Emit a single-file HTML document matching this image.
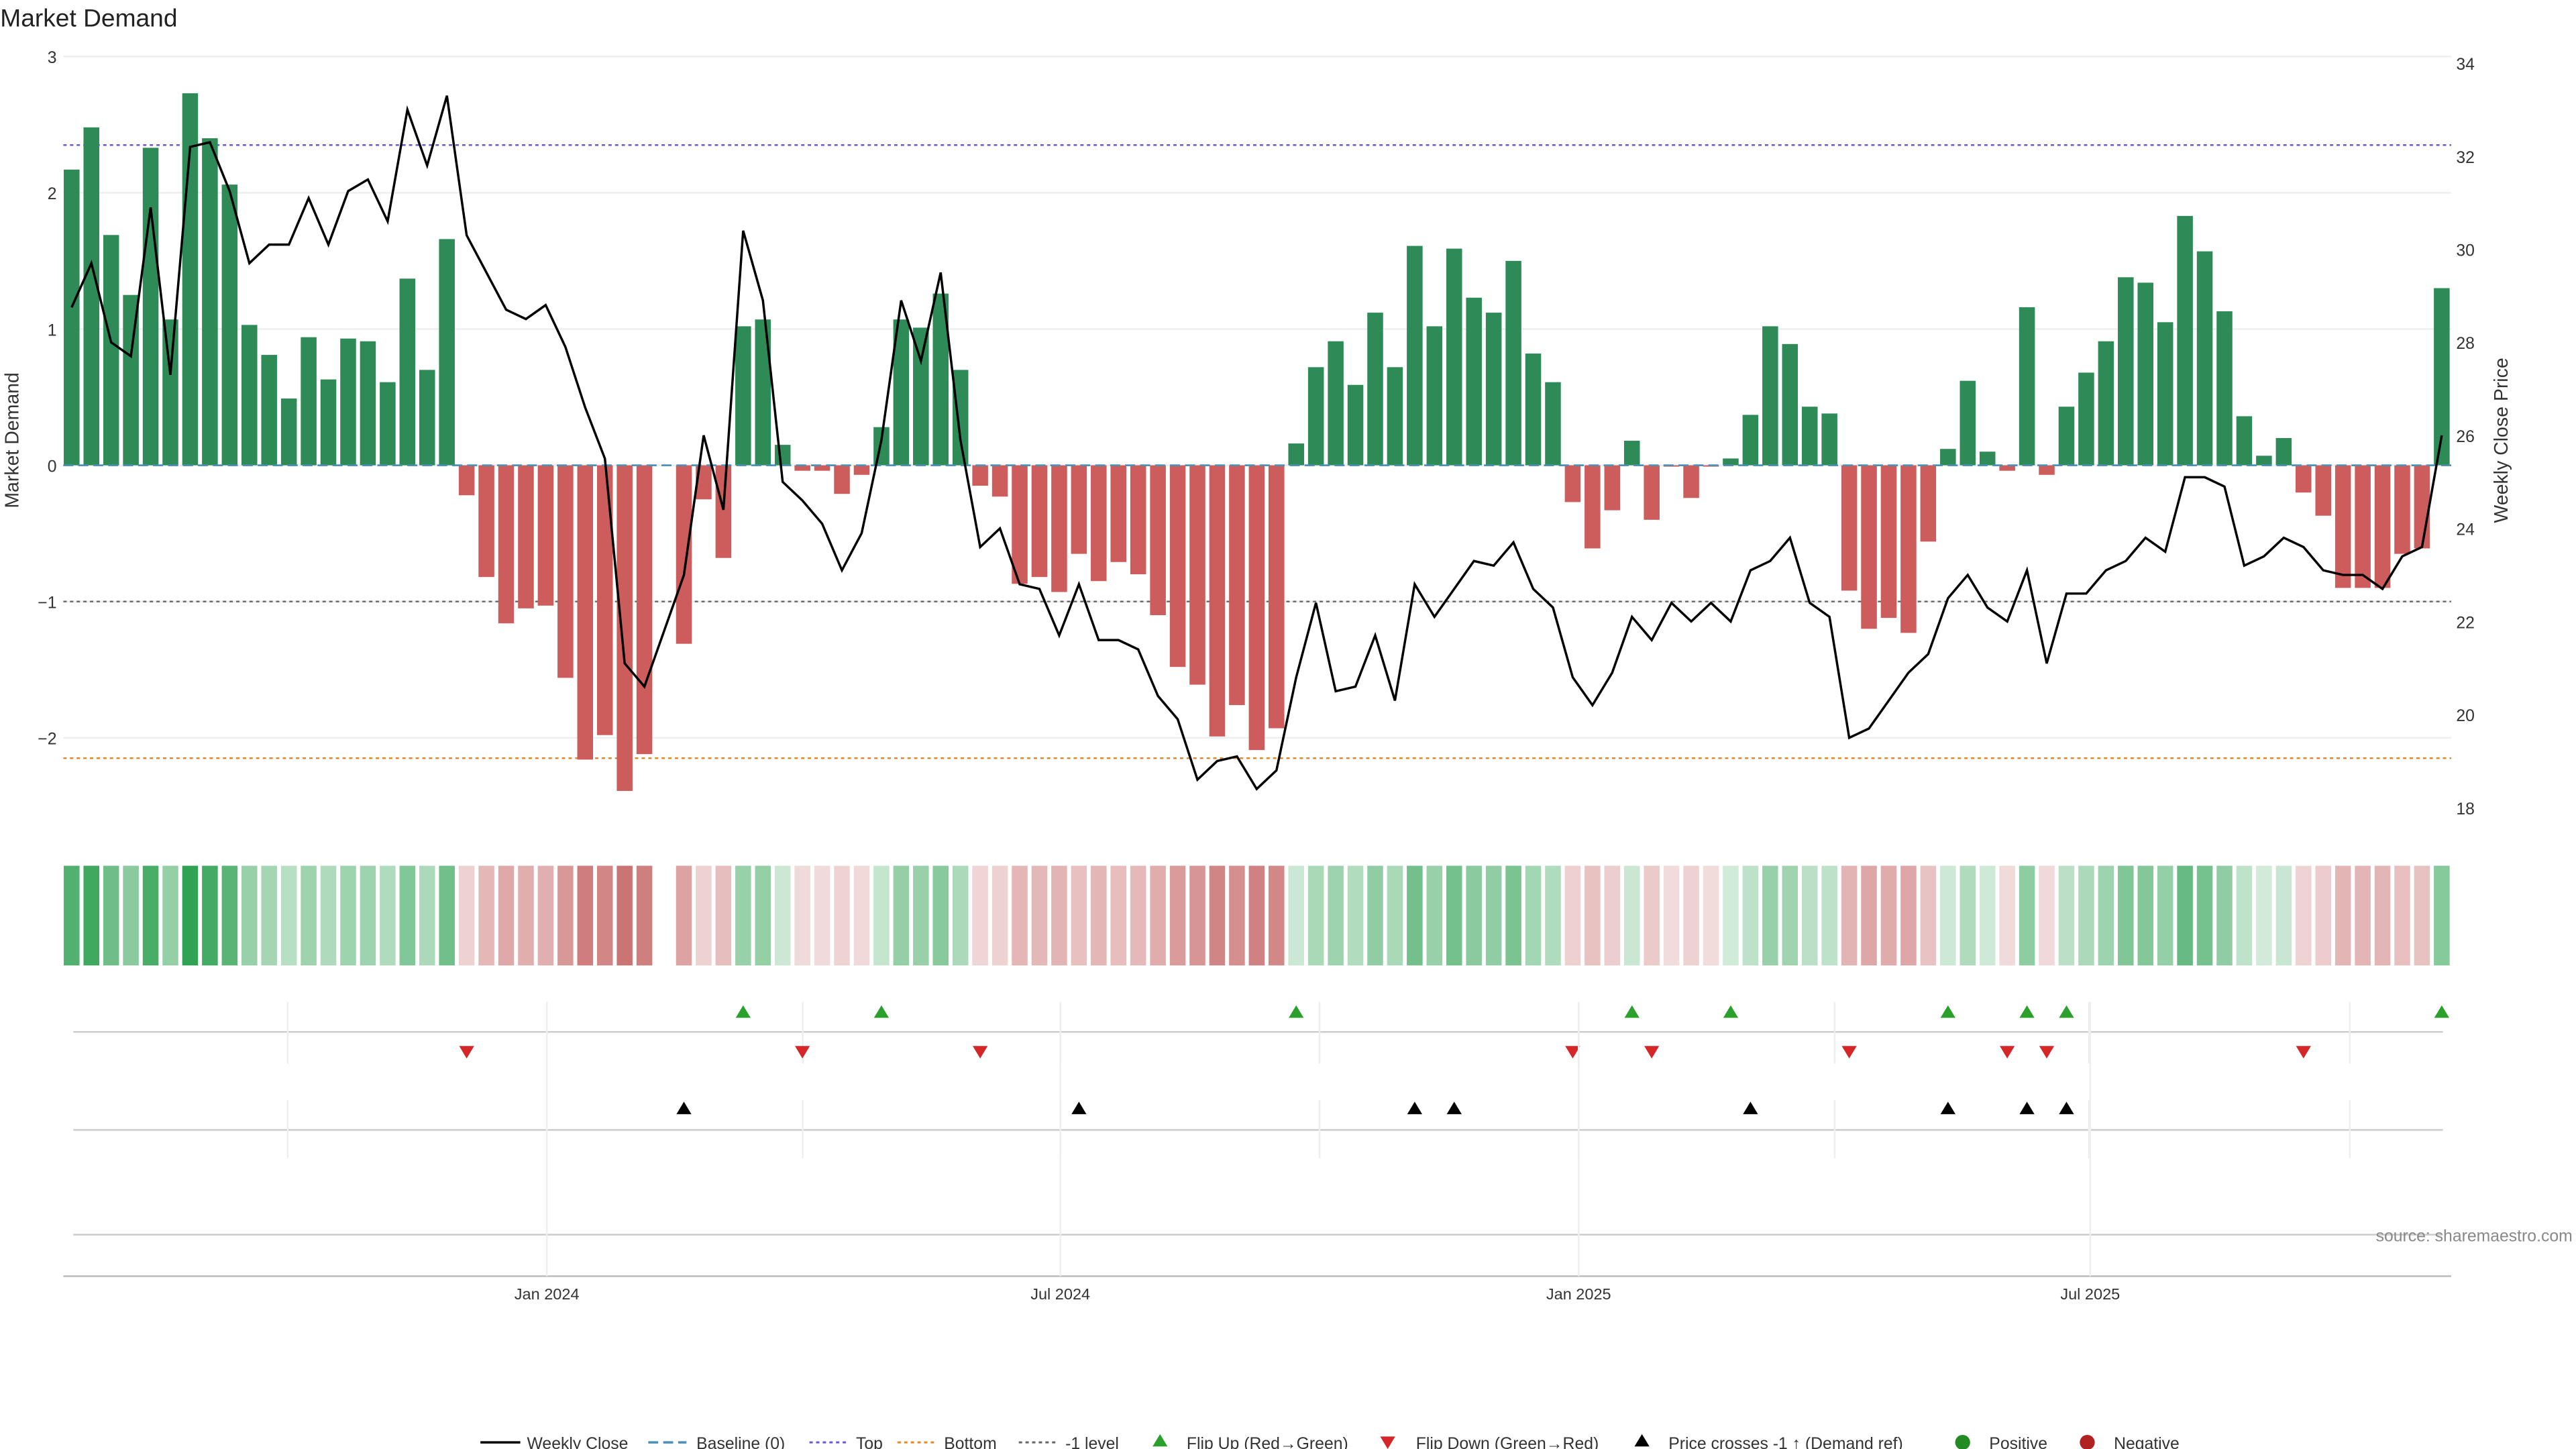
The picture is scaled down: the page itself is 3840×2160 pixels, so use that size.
<!DOCTYPE html>
<html><head><meta charset="utf-8"><title>Market Demand</title>
<style>html,body{margin:0;padding:0;background:#fff}svg{display:block;font-family:"Liberation Sans","DejaVu Sans",sans-serif}</style>
</head><body>
<svg id="chart" width="3840" height="2160" viewBox="0 0 1550 872" xmlns="http://www.w3.org/2000/svg">
<rect width="1550" height="872" fill="#fff"/>
<text x="0" y="16" font-size="15" fill="#222">Market Demand</text>
<g id="grid"></g><g id="refs"></g><g id="bars"></g><g id="price"></g><g id="strip"></g><g id="events"></g><g id="axes"></g>
<text x="1548" y="747" font-size="10" fill="#888" text-anchor="end">source: sharemaestro.com</text>
<g id="legend" font-size="10" fill="#333"></g>
</svg>
<script>
const demand=[2.17,2.48,1.69,1.25,2.33,1.07,2.73,2.40,2.06,1.03,0.81,0.49,0.94,0.63,0.93,0.91,0.61,1.37,0.70,1.66,
-0.22,-0.82,-1.16,-1.05,-1.03,-1.56,-2.16,-1.98,-2.39,-2.12,null,-1.31,-0.25,-0.68,1.02,1.07,0.15,-0.04,-0.04,-0.21,
-0.07,0.28,1.07,1.01,1.26,0.70,-0.15,-0.23,-0.87,-0.82,-0.93,-0.65,-0.85,-0.71,-0.80,-1.10,-1.48,-1.61,-1.99,-1.76,
-2.09,-1.93,0.16,0.72,0.91,0.59,1.12,0.72,1.61,1.02,1.59,1.23,1.12,1.50,0.82,0.61,-0.27,-0.61,-0.33,0.18,
-0.40,-0.01,-0.24,-0.01,0.05,0.37,1.02,0.89,0.43,0.38,-0.92,-1.20,-1.12,-1.23,-0.56,0.12,0.62,0.10,-0.04,1.16,
-0.07,0.43,0.68,0.91,1.38,1.34,1.05,1.83,1.57,1.13,0.36,0.07,0.20,-0.20,-0.37,-0.90,-0.90,-0.90,-0.65,-0.61,1.30];
const price=[28.75,29.7,28.0,27.7,30.9,27.3,32.2,32.3,31.25,29.7,30.1,30.1,31.1,30.1,31.25,31.5,30.6,33.0,31.8,33.3,
30.3,29.5,28.7,28.5,28.8,27.9,26.6,25.5,21.1,20.6,21.8,23.0,26.0,24.4,30.4,28.9,25.0,24.6,24.1,23.1,
23.9,25.9,28.9,27.6,29.5,25.9,23.6,24.0,22.8,22.7,21.7,22.8,21.6,21.6,21.4,20.4,19.9,18.6,19.0,19.1,
18.4,18.8,20.8,22.4,20.5,20.6,21.7,20.3,22.8,22.1,22.7,23.3,23.2,23.7,22.7,22.3,20.8,20.2,20.9,22.1,
21.6,22.4,22.0,22.4,22.0,23.1,23.3,23.8,22.4,22.1,19.5,19.7,20.3,20.9,21.3,22.5,23.0,22.3,22.0,23.1,
21.1,22.6,22.6,23.1,23.3,23.8,23.5,25.1,25.1,24.9,23.2,23.4,23.8,23.6,23.1,23.0,23.0,22.7,23.4,23.6,26.0];
const crossIdx=[31,51,68,70,85,95,99,101];
const leftTicks=[3,2,1,0,-1,-2];
const rightTicks=[34,32,30,28,26,24,22,20,18];
const dateTicks=["Jan 2024","Jul 2024","Jan 2025","Jul 2025"];
const dateTickWeeks=[24.06,50.06,76.3,102.2];
const topLevel=2.35, bottomLevel=-2.15, minusOne=-1;

const NS="http://www.w3.org/2000/svg";
function mk(tag,attrs,parent,txt){const e=document.createElementNS(NS,tag);for(const k in attrs)e.setAttribute(k,attrs[k]);if(txt!==undefined)e.textContent=txt;parent.appendChild(e);return e;}
const X=i=>43+i*11.886;
const Y=v=>280-v*82;
const YP=p=>38+(34-p)*28;
const L=38,R=1475;
const G=id=>document.getElementById(id);

leftTicks.forEach(t=>{const l=mk('line',{x1:L,x2:R,y1:Y(t),y2:Y(t),stroke:'#eee','stroke-width':1},G('grid'));


const tx=mk('text',{x:34,y:Y(t)+4,'font-size':10,'text-anchor':'end',fill:'#333'},G('axes'),t<0?'\u2212'+Math.abs(t):String(t));

});
rightTicks.forEach(t=>{const tx=mk('text',{x:1478,y:YP(t)+4,'font-size':10,fill:'#333'},G('axes'),String(t));

});
let yt=mk('text',{x:11,y:265,'font-size':11.5,'text-anchor':'middle',fill:'#333',transform:'rotate(-90 11 265)'},G('axes'),'Market Demand');


yt=mk('text',{x:1509,y:265,'font-size':11.5,'text-anchor':'middle',fill:'#333',transform:'rotate(-90 1509 265)'},G('axes'),'Weekly Close Price');



[[topLevel,'#6a5acd','2,2','top-line'],[bottomLevel,'#e08a2c','2,2','bottom-line'],[minusOne,'#666','2,2','minus-one-line'],[0,'#4a90b8','6,3','baseline']].forEach(r=>{
const l=mk('line',{x1:L,x2:R,y1:Y(r[0]),y2:Y(r[0]),stroke:r[1],'stroke-width':1,'stroke-dasharray':r[2]},G('refs'));

});

demand.forEach((v,i)=>{if(v===null)return;
const b=mk('rect',{x:X(i)-4.75,width:9.5,y:Math.min(Y(v),Y(0)),height:Math.abs(Y(v)-Y(0)),fill:v>=0?'#2e8b57':'#cd5c5c'},G('bars'));

});
const bl=mk('line',{x1:L,x2:R,y1:Y(0),y2:Y(0),stroke:'#4a90b8','stroke-width':1,'stroke-dasharray':'6,3'},G('bars'));



const pl=mk('polyline',{points:price.map((p,i)=>X(i)+','+YP(p)).join(' '),fill:'none',stroke:'#000','stroke-width':1.4},G('price'));



demand.forEach((v,i)=>{if(v===null)return;const a=Math.abs(v);
const c=v>=0?`rgba(44,160,80,${0.2+0.8*Math.min(a/2.8,1)})`:`rgba(190,80,80,${0.2+0.7*Math.min(a/2.8,1)})`;
const r=mk('rect',{x:X(i)-4.75,width:9.5,y:521,height:60,fill:c},G('strip'));

});

const ev=G('events');
[621,680,743].forEach(y=>{const l=mk('line',{x1:44,x2:1470,y1:y,y2:y,stroke:'#ccc','stroke-width':1},ev);

});
const vg=[173,329,483,638,794,950,1104,1257,1414];
vg.forEach(x=>{[[603,640],[662,697]].forEach(s=>{const l=mk('line',{x1:x,x2:x,y1:s[0],y2:s[1],stroke:'#eee','stroke-width':1},ev);

});});
const ax=mk('line',{x1:38,x2:1475,y1:768,y2:768,stroke:'#bbb','stroke-width':1},ev);


const up=(x,y)=>`${x-4.5},${y+3.5} ${x+4.5},${y+3.5} ${x},${y-4}`;
const dn=(x,y)=>`${x-4.5},${y-3.5} ${x+4.5},${y-3.5} ${x},${y+4}`;
for(let i=1;i<demand.length;i++){const a=demand[i-1],b=demand[i];if(a===null||b===null)continue;
if(a<0&&b>0){const t=mk('polygon',{points:up(X(i),609),fill:'#2ca02c'},ev);

}
if(a>0&&b<0){const t=mk('polygon',{points:dn(X(i),633),fill:'#d62728'},ev);

}}
crossIdx.forEach(i=>{const t=mk('polygon',{points:up(X(i),667),fill:'#000'},ev);

});
dateTicks.forEach((d,k)=>{const x=X(dateTickWeeks[k]);
const l=mk('line',{x1:x,x2:x,y1:603,y2:768,stroke:'#eee','stroke-width':1},ev);


const t=mk('text',{x:x,y:782,'font-size':9.5,'text-anchor':'middle',fill:'#333'},ev,d);

});

const lg=G('legend');const ly=868;
function li(name,x,draw,label,tx){const g=mk('g',{},lg);draw(g);mk('text',{x:tx,y:ly+4},g,label);}
li('legend-weekly-close',0,g=>mk('line',{x1:289,x2:313,y1:ly,y2:ly,stroke:'#000','stroke-width':1.4},g),'Weekly Close',317);
li('legend-baseline',0,g=>mk('line',{x1:390,x2:413,y1:ly,y2:ly,stroke:'#4a90b8','stroke-width':1.4,'stroke-dasharray':'6,3'},g),'Baseline (0)',419);
li('legend-top',0,g=>mk('line',{x1:487,x2:510,y1:ly,y2:ly,stroke:'#6a5acd','stroke-width':1.2,'stroke-dasharray':'2,2'},g),'Top',515);
li('legend-bottom',0,g=>mk('line',{x1:540,x2:563,y1:ly,y2:ly,stroke:'#e08a2c','stroke-width':1.2,'stroke-dasharray':'2,2'},g),'Bottom',568);
li('legend-minus-one',0,g=>mk('line',{x1:613,x2:636,y1:ly,y2:ly,stroke:'#666','stroke-width':1.2,'stroke-dasharray':'2,2'},g),'-1 level',641);
li('legend-flip-up',0,g=>mk('polygon',{points:up(698,ly-1),fill:'#2ca02c'},g),'Flip Up (Red\u2192Green)',714);
li('legend-flip-down',0,g=>mk('polygon',{points:dn(835,ly),fill:'#d62728'},g),'Flip Down (Green\u2192Red)',852);
li('legend-price-cross',0,g=>mk('polygon',{points:up(988,ly-1),fill:'#000'},g),'Price crosses -1 \u2191 (Demand ref)',1004);
li('legend-positive',0,g=>mk('circle',{cx:1181,cy:ly,r:4.5,fill:'#228b22'},g),'Positive',1197);
li('legend-negative',0,g=>mk('circle',{cx:1256,cy:ly,r:4.5,fill:'#b22222'},g),'Negative',1272);
</script>
</body></html>
